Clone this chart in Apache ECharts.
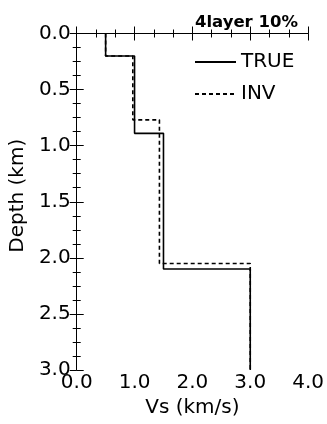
<!DOCTYPE html>
<html>
<head>
<meta charset="utf-8">
<script src="https://cdn.jsdelivr.net/npm/echarts@6/dist/echarts.min.js"></script>
<style>
    html, body {margin: 0; padding: 0; background: #fff;}
    #chart {width: 327px; height: 424px;}
</style>
</head>
<body>
<div id="chart"></div>
<script>
// layer models: Vs of each layer (km/s) and depth of each interface (km)
var trueVs = [0.5, 1.0, 1.5, 3.0];
var trueDepth = [0.2, 0.89, 2.1];
var invVs = [0.5, 0.97, 1.43, 3.0];
var invDepth = [0.2, 0.77, 2.05];
var maxDepth = 3.0;

var xTicks = [0.0, 1.0, 2.0, 3.0, 4.0];
var yTicks = [0.0, 0.5, 1.0, 1.5, 2.0, 2.5, 3.0];

// turn layers into a step profile
function profile(vs, depth) {
    var pts = [];
    var top = 0;
    for (var i = 0; i < vs.length; i++) {
        var bot = i < depth.length ? depth[i] : maxDepth;
        pts.push([vs[i], top]);
        pts.push([vs[i], bot]);
        top = bot;
    }
    return pts;
}

var font = 'DejaVu Sans';

function valueAxis(pos, min, max, interval, minorSplit, showLabel) {
    return {
        type: 'value',
        position: pos,
        min: min,
        max: max,
        interval: interval,
        inverse: pos === 'left' || pos === 'right',
        axisLine: {show: true, lineStyle: {color: '#000', width: 1}},
        axisTick: {show: true, inside: true, length: 7, lineStyle: {color: '#000'}},
        minorTick: {show: true, splitNumber: minorSplit, length: 4, lineStyle: {color: '#000'}},
        splitLine: {show: false},
        axisLabel: {
            show: showLabel,
            color: '#000',
            fontFamily: font,
            fontSize: 20,
            margin: pos === 'left' ? 6 : 3,
            formatter: function (v) { return v.toFixed(1); }
        }
    };
}

var chart = echarts.init(document.getElementById('chart'));

var xBottom = valueAxis('bottom', xTicks[0], xTicks[xTicks.length - 1], 1, 3, true);
xBottom.name = 'Vs (km/s)';
xBottom.nameLocation = 'middle';
xBottom.nameGap = 20;
xBottom.nameTextStyle = {color: '#000', fontFamily: font, fontSize: 20};

var yLeft = valueAxis('left', yTicks[0], yTicks[yTicks.length - 1], 0.5, 4, true);
yLeft.name = 'Depth (km)';
yLeft.nameLocation = 'middle';
yLeft.nameGap = 38;
yLeft.nameTextStyle = {color: '#000', fontFamily: font, fontSize: 20, padding: [0, 0, 0, 12]};

option = {
    animation: false,
    backgroundColor: '#fff',
    title: {
        text: '4layer 10%',
        right: 24,
        top: 9,
        textStyle: {color: '#000', fontFamily: font, fontSize: 16.5, fontWeight: 'bold'}
    },
    legend: {
        orient: 'vertical',
        left: 194,
        top: 52,
        padding: 0,
        itemWidth: 41,
        itemHeight: 14,
        itemGap: 12,
        itemStyle: {opacity: 0},
        textStyle: {color: '#000', fontFamily: font, fontSize: 20, lineHeight: 20},
        data: ['TRUE', 'INV']
    },
    grid: {left: 72.5, right: 17, top: 33.5, bottom: 54},
    xAxis: [
        xBottom,
        valueAxis('top', xTicks[0], xTicks[xTicks.length - 1], 1, 3, false)
    ],
    yAxis: [
        yLeft,
        valueAxis('right', yTicks[0], yTicks[yTicks.length - 1], 0.5, 4, false)
    ],
    series: [
        {
            name: 'TRUE',
            type: 'line',
            symbol: 'none',
            lineStyle: {color: '#000', width: 1.6, type: 'solid'},
            itemStyle: {color: '#000'},
            data: profile(trueVs, trueDepth)
        },
        {
            name: 'INV',
            type: 'line',
            symbol: 'none',
            lineStyle: {color: '#000', width: 1.6, type: [4, 3]},
            itemStyle: {color: '#000'},
            data: profile(invVs, invDepth)
        }
    ]
};

chart.setOption(option);
</script>
</body>
</html>
